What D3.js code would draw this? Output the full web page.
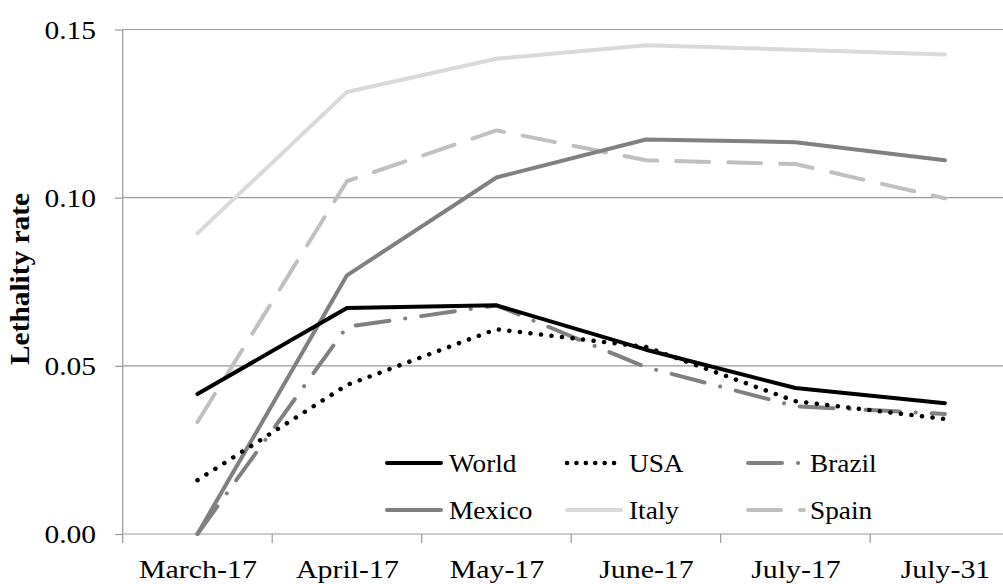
<!DOCTYPE html>
<html>
<head>
<meta charset="utf-8">
<script src="https://cdn.jsdelivr.net/npm/d3@7"></script>
<style>
  body { margin: 0; background: #fff; }
</style>
</head>
<body>
<div id="chart"></div>
<script>
var svgWidth = 1003;
var svgHeight = 584;

var margin = { top: 29.5, right: -16.7, bottom: 50, left: 122.7 };

var width = svgWidth - margin.left - margin.right;
var height = svgHeight - margin.top - margin.bottom;

var serif = "'Liberation Serif', 'Times New Roman', 'DejaVu Serif', serif";

// data
var months = ["March-17", "April-17", "May-17", "June-17", "July-17", "July-31"];
var yTicks = [0, 0.05, 0.10, 0.15];

var world  = [0.0416, 0.0672, 0.0680, 0.0548, 0.0434, 0.0389];
var usa    = [0.0160, 0.0443, 0.0609, 0.0556, 0.0395, 0.0342];
var brazil = [0.0000, 0.0616, 0.0680, 0.0496, 0.0380, 0.0357];
var mexico = [0.0000, 0.0769, 0.1060, 0.1173, 0.1165, 0.1111];
var italy  = [0.0894, 0.1314, 0.1413, 0.1453, 0.1440, 0.1426];
var spain  = [0.0333, 0.1049, 0.1200, 0.1111, 0.1100, 0.0998];

var seriesNames = ["World", "USA", "Brazil", "Mexico", "Italy", "Spain"];
var seriesValues = [world, usa, brazil, mexico, italy, spain];

// line looks per series
var styles = {
  World:  { color: "#000000", dash: null, width: 4 },
  USA:    { color: "#000000", dash: "0.1,10.5", width: 4.5 },
  Brazil: { color: "#808080", dash: "34,16,0.1,16", width: 4 },
  Mexico: { color: "#808080", dash: null, width: 4 },
  Italy:  { color: "#d9d9d9", dash: null, width: 4 },
  Spain:  { color: "#bfbfbf", dash: "33,19", width: 4 }
};

var svg = d3.select("#chart")
  .append("svg")
  .attr("width", svgWidth)
  .attr("height", svgHeight);

var chartGroup = svg.append("g")
  .attr("transform", `translate(${margin.left}, ${margin.top})`);

var xBand = d3.scaleBand()
  .domain(months)
  .range([0, width]);

var xScale = d3.scalePoint()
  .domain(months)
  .range([0, width])
  .padding(0.5);

var yScale = d3.scaleLinear()
  .domain([0, 0.15])
  .range([height, 0]);

// gridlines
chartGroup.append("g")
  .selectAll("line")
  .data(yTicks.filter(d => d > 0))
  .enter()
  .append("line")
  .attr("x1", 0)
  .attr("x2", width)
  .attr("y1", d => yScale(d))
  .attr("y2", d => yScale(d))
  .attr("stroke", "#9a9a9a")
  .attr("stroke-width", 1.2);

// y axis
var leftAxis = d3.axisLeft(yScale)
  .tickValues(yTicks)
  .tickFormat(d3.format(".2f"))
  .tickSize(7.7)
  .tickPadding(19);

var yAxis = chartGroup.append("g").call(leftAxis);
yAxis.attr("font-family", serif);
yAxis.select(".domain").remove();
yAxis.selectAll("line").attr("stroke", "#9a9a9a").attr("stroke-width", 1.2);
yAxis.selectAll("text")
  .style("font-family", serif)
  .attr("font-size", 25)
  .attr("dy", "0.34em")
  .attr("transform", function() {
    var tx = +d3.select(this).attr("x");
    return `translate(${tx * -0.18}, 0) scale(1.18, 1)`;
  });

chartGroup.append("line")
  .attr("x1", 0).attr("x2", 0)
  .attr("y1", 0).attr("y2", height + 9)
  .attr("stroke", "#9a9a9a")
  .attr("stroke-width", 1.2);

// x axis
var bottomAxis = d3.axisBottom(xScale).tickSize(0).tickPadding(26);

var xAxis = chartGroup.append("g")
  .attr("transform", `translate(0, ${height})`)
  .call(bottomAxis);
xAxis.attr("font-family", serif);
xAxis.select(".domain").remove();
xAxis.selectAll(".tick text")
  .style("font-family", serif)
  .attr("font-size", 26)
  .attr("dy", "0.71em")
  .attr("transform", "scale(1.15, 1)");

xAxis.append("line")
  .attr("x1", 0).attr("x2", width)
  .attr("y1", 0).attr("y2", 0)
  .attr("stroke", "#9a9a9a")
  .attr("stroke-width", 1.2);

xAxis.selectAll(".edge")
  .data(months.slice(1))
  .enter()
  .append("line")
  .attr("class", "edge")
  .attr("x1", d => xBand(d))
  .attr("x2", d => xBand(d))
  .attr("y1", 0)
  .attr("y2", 9)
  .attr("stroke", "#9a9a9a")
  .attr("stroke-width", 1.2);

// y axis title
svg.append("text")
  .attr("transform", "translate(29, 279) rotate(-90)")
  .attr("text-anchor", "middle")
  .style("font-family", serif)
  .attr("font-size", 27)
  .attr("font-weight", "bold")
  .attr("textLength", 172)
  .attr("lengthAdjust", "spacingAndGlyphs")
  .text("Lethality rate");

// lines
var line = d3.line()
  .x((d, i) => xScale(months[i]))
  .y(d => yScale(d));

var drawOrder = ["Italy", "Spain", "Mexico", "Brazil", "USA", "World"];

drawOrder.forEach(function(name) {
  var s = styles[name];
  var vals = seriesValues[seriesNames.indexOf(name)];
  chartGroup.append("path")
    .datum(vals)
    .attr("d", line)
    .attr("fill", "none")
    .attr("stroke", s.color)
    .attr("stroke-width", s.width)
    .attr("stroke-dasharray", s.dash)
    .attr("stroke-linecap", "round")
    .attr("stroke-linejoin", "round");
});

// legend
var legendX = [385, 565, 746];
var legendY = [463, 510];

var legend = svg.append("g");

seriesNames.forEach(function(name, i) {
  var s = styles[name];
  var lx = legendX[i % 3];
  var ly = legendY[Math.floor(i / 3)];
  var dashed = s.dash && name !== "USA";
  legend.append("line")
    .attr("x1", lx + 2)
    .attr("x2", lx + (dashed ? 58 : 56))
    .attr("y1", ly)
    .attr("y2", ly)
    .attr("stroke", s.color)
    .attr("stroke-width", s.width)
    .attr("stroke-dasharray", name === "USA" ? "0.1,9.3" : s.dash)
    .attr("stroke-linecap", "round");
  legend.append("text")
    .attr("x", lx + 64)
    .attr("y", ly + 9)
    .style("font-family", serif)
    .attr("font-size", 26)
    .attr("transform", `translate(${-(lx + 64) * 0.05}, 0) scale(1.05, 1)`)
    .text(name);
});
</script>
</body>
</html>
